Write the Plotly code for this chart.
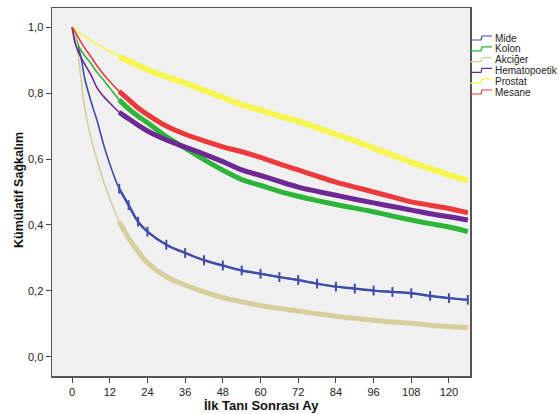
import plotly.graph_objects as go

months = [0, 1, 2, 3, 4, 6, 8, 10, 12, 15, 18, 21, 24, 30, 36, 42, 48, 54, 60,
          66, 72, 78, 84, 90, 96, 102, 108, 114, 120, 126]

mide = [1.0, 0.965, 0.94, 0.9, 0.845, 0.775, 0.715, 0.645, 0.585, 0.51, 0.46, 0.41,
        0.38, 0.34, 0.315, 0.293, 0.277, 0.262, 0.252, 0.242, 0.233, 0.222, 0.213,
        0.207, 0.201, 0.197, 0.193, 0.185, 0.178, 0.173]
kolon = [1.0, 0.975, 0.945, 0.928, 0.913, 0.89, 0.862, 0.84, 0.815, 0.78, 0.752, 0.73,
         0.71, 0.668, 0.633, 0.598, 0.566, 0.538, 0.52, 0.502, 0.487, 0.474, 0.462,
         0.451, 0.44, 0.427, 0.415, 0.404, 0.394, 0.38]
akciger = [1.0, 0.975, 0.91, 0.83, 0.755, 0.665, 0.595, 0.533, 0.48, 0.41, 0.36, 0.32,
           0.285, 0.243, 0.218, 0.197, 0.18, 0.167, 0.156, 0.147, 0.139, 0.131, 0.123,
           0.117, 0.111, 0.106, 0.102, 0.096, 0.092, 0.088]
hemato = [1.0, 0.95, 0.925, 0.905, 0.888, 0.855, 0.815, 0.79, 0.77, 0.742, 0.722, 0.703,
          0.685, 0.658, 0.636, 0.615, 0.592, 0.567, 0.55, 0.532, 0.515, 0.502, 0.49,
          0.478, 0.467, 0.456, 0.445, 0.434, 0.425, 0.415]
prostat = [1.0, 0.993, 0.985, 0.978, 0.972, 0.96, 0.948, 0.937, 0.927, 0.91, 0.897, 0.884,
           0.871, 0.85, 0.83, 0.808, 0.787, 0.765, 0.748, 0.73, 0.715, 0.695, 0.675,
           0.655, 0.633, 0.612, 0.59, 0.571, 0.552, 0.535]
mesane = [1.0, 0.985, 0.968, 0.952, 0.937, 0.91, 0.882, 0.857, 0.835, 0.805, 0.78, 0.755,
          0.735, 0.70, 0.675, 0.655, 0.637, 0.622, 0.605, 0.585, 0.567, 0.548, 0.53,
          0.515, 0.50, 0.485, 0.47, 0.46, 0.45, 0.437]

names = ["Mide", "Kolon", "Akciğer", "Hematopoetik", "Prostat", "Mesane"]
series = [mide, kolon, akciger, hemato, prostat, mesane]
colors = ["#3F4DA8", "#2DB53A", "#D6CE9C", "#6E2794", "#F6F652", "#EC3A3C"]
thick = [2.4, 5, 5, 5, 6, 5]

xticks = [0, 12, 24, 36, 48, 60, 72, 84, 96, 108, 120]
yticks = [0.0, 0.2, 0.4, 0.6, 0.8, 1.0]
ylabels = ["0,0", "0,2", "0,4", "0,6", "0,8", "1,0"]

W, H = 559, 414
L, R, T, B = 52, 89, 8, 38
pw = W - L - R
ph = H - T - B


def px(x):
    return (x - L) / pw


def py(y):
    return 1 - (y - T) / ph


fig = go.Figure()
start = 9  # index where the censor-dense thick segment begins (month 15)
for name, ys, c, w in zip(names, series, colors, thick):
    fig.add_trace(go.Scatter(x=months, y=ys, mode="lines", name=name,
                             line=dict(color=c, width=1.6, shape="spline"),
                             showlegend=False, hoverinfo="skip"))
    if name == "Mide":
        fig.add_trace(go.Scatter(x=months[start:], y=ys[start:], mode="lines+markers",
                                 line=dict(color=c, width=w, shape="spline"),
                                 marker=dict(symbol="line-ns", size=7,
                                             line=dict(color=c, width=2)),
                                 showlegend=False, hoverinfo="skip"))
    else:
        fig.add_trace(go.Scatter(x=months[start:], y=ys[start:], mode="lines",
                                 line=dict(color=c, width=w, shape="spline"),
                                 showlegend=False, hoverinfo="skip"))

# compact manual legend (SPSS style)
leg_y0 = 38
step = 10.8
shapes = []
annotations = []
for i, (name, c) in enumerate(zip(names, colors)):
    yc = leg_y0 + i * step
    shapes.append(dict(type="path", xref="paper", yref="paper",
                       path=f"M {px(470)},{py(yc+2)} L {px(481)},{py(yc+2)} "
                            f"L {px(482)},{py(yc-2)} L {px(492)},{py(yc-2)}",
                       line=dict(color=c, width=1.2)))
    annotations.append(dict(text=name, x=px(493), y=py(yc),
                            xref="paper", yref="paper", xanchor="left", yanchor="middle",
                            showarrow=False,
                            font=dict(family="Liberation Sans, Arial", size=10, color="#222")))

annotations.append(dict(text="<b>İlk Tanı Sonrası Ay</b>", x=px(261), y=py(405),
                        xref="paper", yref="paper", xanchor="center", yanchor="middle",
                        showarrow=False,
                        font=dict(family="Liberation Sans, Arial", size=13, color="#111")))
annotations.append(dict(text="<b>Kümülatif Sağkalım</b>", x=px(19), y=py(190),
                        xref="paper", yref="paper", xanchor="center", yanchor="middle",
                        textangle=-90, showarrow=False,
                        font=dict(family="Liberation Sans, Arial", size=12.5, color="#111")))

fig.update_layout(
    width=W, height=H,
    margin=dict(l=L, r=R, t=T, b=B),
    paper_bgcolor="white", plot_bgcolor="#F0F0F0",
    showlegend=False,
    font=dict(family="Liberation Sans, Arial", size=11, color="#222"),
    annotations=annotations,
    shapes=shapes,
)

fig.update_xaxes(range=[-6.4, 126.7], tickvals=xticks, ticks="outside", ticklen=5,
                 tickcolor="#444", showgrid=False, zeroline=False, showline=True,
                 linecolor="#555", linewidth=1.5, mirror=True, automargin=False,
                 tickfont=dict(size=11, color="#222"))
fig.update_yaxes(range=[-0.058, 1.058], tickvals=yticks, ticktext=ylabels,
                 ticks="outside", ticklen=5, tickcolor="#444", showgrid=False,
                 zeroline=False, showline=True, linecolor="#555", linewidth=1.5,
                 mirror=True, automargin=False, tickfont=dict(size=11, color="#222"))

fig.write_html("out.html",
               config={"displayModeBar": False, "staticPlot": True},
               post_script="document.body.style.margin='0';document.body.style.overflow='hidden';")
